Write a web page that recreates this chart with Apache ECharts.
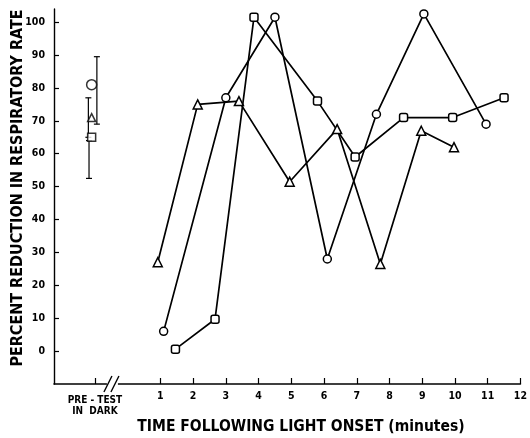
<!DOCTYPE html>
<html>
<head>
<meta charset="utf-8">
<script src="https://cdn.jsdelivr.net/npm/echarts@6/dist/echarts.min.js"></script>
<style>html,body{margin:0;padding:0;background:#fff}#c{width:530px;height:438px}</style>
</head>
<body>
<div id="c"></div>
<script>
// ---- data ----
var circleX = [1.1, 3.0, 4.5, 6.1, 7.6, 9.05, 10.95];
var circleY = [6, 77, 101.5, 28, 72, 102.5, 69];
var triX = [0.92, 2.14, 3.4, 4.95, 6.4, 7.72, 8.97, 9.97];
var triY = [27, 75, 76, 51.5, 67.5, 26.5, 67, 62];
var sqX = [1.46, 2.67, 3.86, 5.8, 6.95, 8.43, 9.93, 11.5];
var sqY = [0.6, 9.7, 101.5, 76, 59, 71, 71, 77];
var preX = [-1.1, -1.1, -1.1];
var preY = [81, 71, 65];
var preSymbols = ['circle', 'triangle', 'rect'];
var errX = [-0.94, -1.2, -1.18];
var errLow = [69, 65, 52.5];
var errHigh = [89.5, 77, 64];
var xTicks = [-1, 1, 2, 3, 4, 5, 6, 7, 8, 9, 10, 11, 12];
var yTicks = [0, 10, 20, 30, 40, 50, 60, 70, 80, 90, 100];
var breakAt = [-0.45, -10];

function pairs(xs, ys) { return xs.map(function (x, i) { return [x, ys[i]]; }); }

var chart = echarts.init(document.getElementById('c'), null, {renderer: 'canvas'});
var fontFam = '"DejaVu Sans Condensed", "DejaVu Sans", sans-serif';
var lineStyle = {color: '#000', width: 1.7};
var itemStyle = {color: '#fff', borderColor: '#000', borderWidth: 1.5};

function lineSeries(data, symbol, size) {
  return {
    type: 'line', data: data, symbol: symbol, symbolSize: size,
    showAllSymbol: true, lineStyle: lineStyle, itemStyle: itemStyle,
    animation: false, z: 3
  };
}

var option = {
  animation: false,
  backgroundColor: '#fff',
  grid: {left: 54, right: 7, top: 9, bottom: 54, containLabel: false},
  xAxis: {
    type: 'value', min: -2.25, max: 12,
    axisLine: {show: true, onZero: false, lineStyle: {color: '#000', width: 1.6}},
    axisTick: {show: true, inside: true, length: 6, customValues: xTicks, lineStyle: {color: '#000', width: 1.2}},
    axisLabel: {
      customValues: xTicks, margin: 7, color: '#000', fontFamily: fontFam, fontWeight: 'bold', fontSize: 10.5,
      formatter: function (v) { return v === -1 ? '{p|PRE - TEST\nIN  DARK}' : String(v); },
      rich: {p: {fontFamily: fontFam, fontWeight: 'bold', fontSize: 10, lineHeight: 11, align: 'center', padding: [8, 0, 0, 0], color: '#000'}}
    },
    splitLine: {show: false}
  },
  yAxis: {
    type: 'value', min: -10, max: 104, interval: 10,
    axisLine: {show: true, onZero: false, lineStyle: {color: '#000', width: 1.4}},
    axisTick: {show: true, inside: true, length: 5, customValues: yTicks, lineStyle: {color: '#000', width: 1.2}},
    axisLabel: {customValues: yTicks, margin: 9, color: '#000', fontFamily: fontFam, fontWeight: 'bold', fontSize: 10.5},
    splitLine: {show: false}
  },
  graphic: [
    {type: 'text', x: 18, y: 188, rotation: Math.PI / 2, z: 10,
      style: {text: 'PERCENT REDUCTION IN RESPIRATORY RATE', fontFamily: fontFam, fontWeight: 'bold', fontSize: 16, fill: '#000', align: 'center', verticalAlign: 'middle'}},
    {type: 'text', x: 301, y: 427, z: 10,
      style: {text: 'TIME FOLLOWING LIGHT ONSET (minutes)', fontFamily: fontFam, fontWeight: 'bold', fontSize: 15.5, fill: '#000', align: 'center', verticalAlign: 'middle'}}
  ],
  series: [
    lineSeries(pairs(circleX, circleY), 'circle', 8),
    lineSeries(pairs(triX, triY), 'triangle', 9),
    lineSeries(pairs(sqX, sqY), 'roundRect', 8),
    {
      type: 'custom', animation: false, z: 2,
      data: errX.map(function (x, i) { return [x, errLow[i], errHigh[i]]; }),
      renderItem: function (params, api) {
        var x = api.value(0), lo = api.coord([x, api.value(1)]), hi = api.coord([x, api.value(2)]);
        var st = {stroke: '#000', lineWidth: 1.2};
        return {type: 'group', children: [
          {type: 'line', shape: {x1: lo[0], y1: lo[1], x2: hi[0], y2: hi[1]}, style: st},
          {type: 'line', shape: {x1: lo[0] - 3, y1: lo[1], x2: lo[0] + 3, y2: lo[1]}, style: st},
          {type: 'line', shape: {x1: hi[0] - 3, y1: hi[1], x2: hi[0] + 3, y2: hi[1]}, style: st}
        ]};
      }
    },
    {
      type: 'scatter', animation: false, z: 4,
      data: preX.map(function (x, i) { return {value: [x, preY[i]], symbol: preSymbols[i], symbolSize: i === 0 ? 10 : 8}; }),
      itemStyle: itemStyle
    },
    {
      type: 'custom', animation: false, z: 5,
      data: [breakAt],
      renderItem: function (params, api) {
        var p = api.coord([api.value(0), api.value(1)]);
        var st = {stroke: '#000', lineWidth: 1.4};
        return {type: 'group', children: [
          {type: 'rect', shape: {x: p[0] - 6, y: p[1] - 2, width: 11, height: 4}, style: {fill: '#fff'}},
          {type: 'line', shape: {x1: p[0] - 9, y1: p[1] + 8, x2: p[0] - 1, y2: p[1] - 8}, style: st},
          {type: 'line', shape: {x1: p[0] - 2, y1: p[1] + 8, x2: p[0] + 6, y2: p[1] - 8}, style: st}
        ]};
      }
    }
  ]
};
chart.setOption(option);
</script>
</body>
</html>
